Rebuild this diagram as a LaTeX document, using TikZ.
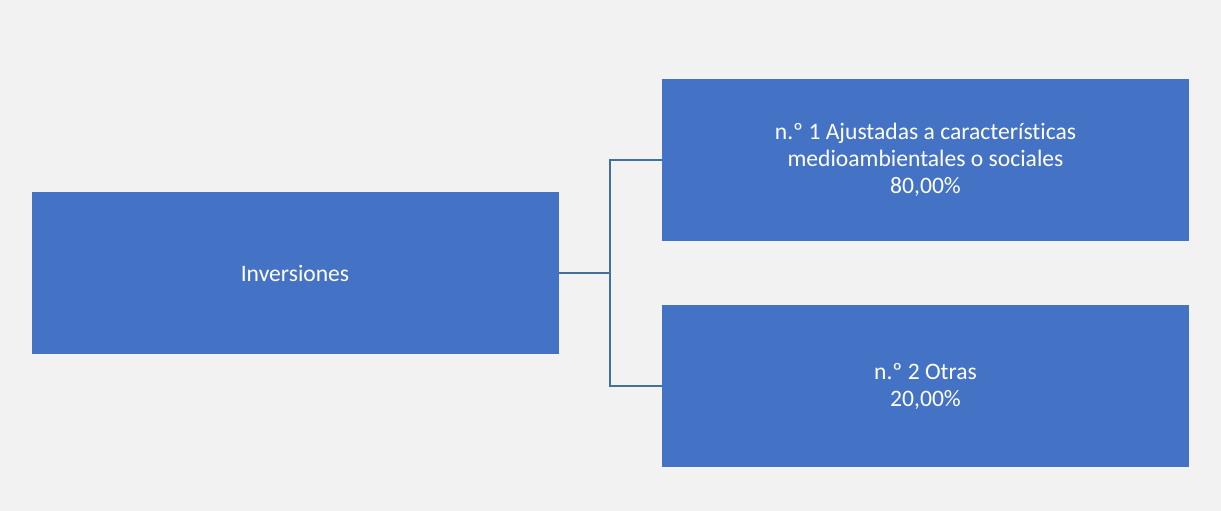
\documentclass[tikz,border=0pt]{standalone}
\usepackage{fontspec}
\setmainfont[RawFeature=-liga]{Carlito}
\usetikzlibrary{positioning}

\definecolor{boxblue}{HTML}{4472C4}
\definecolor{linkblue}{HTML}{41719C}
\definecolor{bggray}{HTML}{F2F2F2}

\begin{document}
\begin{tikzpicture}[x=1pt, y=-1pt,
    box/.style={fill=boxblue, draw=none, text=white, minimum width=527pt, minimum height=162pt,
        align=center, font=\fontsize{23.6}{27}\selectfont, inner sep=0pt},
    link/.style={draw=linkblue, line width=2pt}]
    \fill[bggray] (0,0) rectangle (1221,511);
    \useasboundingbox (0,0) rectangle (1221,511);

    \node[box] (inv) at (295,273) {Inversiones};
    \node[box] (uno) at (925.5,160) {n.º 1 Ajustadas a características\\medioambientales o sociales\\80,00\%};
    \node[box] (dos) at (925.5,386) {n.º 2 Otras\\20,00\%};

    \coordinate (split) at (610,273);
    \draw[link] (inv.east) -- (split);
    \draw[link] (split) |- (uno.west);
    \draw[link] (split) |- (dos.west);
\end{tikzpicture}
\end{document}
